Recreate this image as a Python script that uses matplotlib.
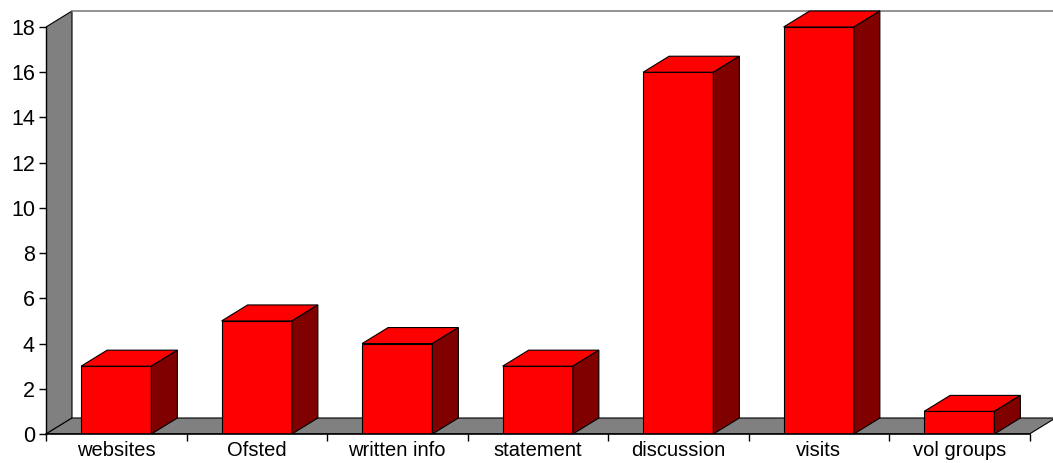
import matplotlib
matplotlib.use("Agg")
import matplotlib.pyplot as plt
from matplotlib.patches import Polygon

categories = ["websites", "Ofsted", "written info", "statement", "discussion", "visits", "vol groups"]
values = [3, 5, 4, 3, 16, 18, 1]
yticks = [0, 2, 4, 6, 8, 10, 12, 14, 16, 18]

W, H = 1053, 463
fig = plt.figure(figsize=(W / 100, H / 100), dpi=100)
plt.rcParams['font.family'] = ['Liberation Sans', 'DejaVu Sans']

x0_px, y0_px = 46, 434
cat_px = 140.5
unit_px = (434 - 27) / 18.0
ax = fig.add_axes([x0_px / W, (H - y0_px) / H, (W - x0_px) / W, y0_px / H])
ax.set_xlim(0, (W - x0_px) / cat_px)
ax.set_ylim(0, y0_px / unit_px)

DX = 26 / cat_px
DY = 16 / unit_px
n = len(categories)
ymax = 18
lw = 0.8
gray = "#808080"

# left wall
ax.add_patch(Polygon([(0, 0), (0, ymax), (DX, ymax + DY), (DX, DY)], closed=True,
                     facecolor=gray, edgecolor="black", lw=lw, zorder=1))
# floor
ax.add_patch(Polygon([(0, 0), (n, 0), (n + DX, DY), (DX, DY)], closed=True,
                     facecolor=gray, edgecolor="black", lw=lw, zorder=1))
# back wall top line
ax.plot([DX, ax.get_xlim()[1]], [ymax + DY, ymax + DY], color=gray, lw=1.2, zorder=1,
        clip_on=False)

# bars
bw = 0.5
for i, v in enumerate(values):
    l = i + 0.5 - bw / 2
    r = i + 0.5 + bw / 2
    ax.bar(i + 0.5, v, width=bw, color="#FF0000", edgecolor="black", lw=lw, zorder=3)
    ax.add_patch(Polygon([(l, v), (r, v), (r + DX, v + DY), (l + DX, v + DY)], closed=True,
                         facecolor="#FF0000", edgecolor="black", lw=lw, zorder=3))
    ax.add_patch(Polygon([(r, 0), (r + DX, DY), (r + DX, v + DY), (r, v)], closed=True,
                         facecolor="#800000", edgecolor="black", lw=lw, zorder=3))

for s in ["top", "right"]:
    ax.spines[s].set_visible(False)
ax.spines["left"].set_bounds(0, ymax)
ax.spines["bottom"].set_bounds(0, n)
ax.spines["left"].set_linewidth(1.0)
ax.spines["bottom"].set_linewidth(1.2)
ax.spines["left"].set_zorder(5)
ax.spines["bottom"].set_zorder(5)

ax.set_yticks(yticks)
ax.set_yticklabels([str(t) for t in yticks], fontsize=15.5)
ax.tick_params(axis="y", direction="out", length=5, width=1, pad=3)

ax.set_xticks(range(n + 1))
ax.set_xticklabels([])
ax.tick_params(axis="x", which="major", direction="out", length=5, width=1)
ax.set_xticks([i + 0.5 for i in range(n)], minor=True)
ax.set_xticklabels(categories, minor=True, fontsize=14.5)
ax.tick_params(axis="x", which="minor", length=0, pad=5)

fig.savefig("out.png", dpi=100)
